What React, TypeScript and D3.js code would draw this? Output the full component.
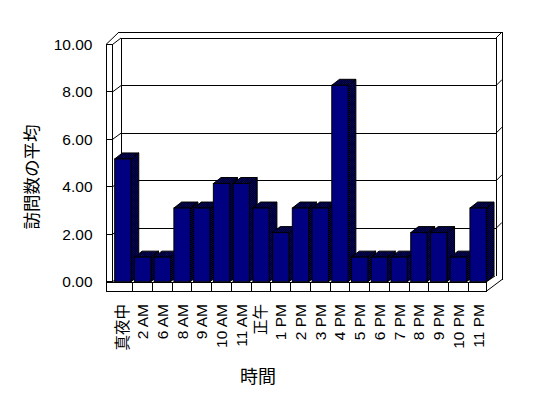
import React from "react";
import * as d3 from "d3";

const categories = ["真夜中", "2 AM", "6 AM", "8 AM", "9 AM", "10 AM", "11 AM", "正午", "1 PM", "2 PM", "3 PM", "4 PM", "5 PM", "6 PM", "7 PM", "8 PM", "9 PM", "10 PM", "11 PM"];
const visits = [5, 1, 1, 3, 3, 4, 4, 3, 2, 3, 3, 8, 1, 1, 1, 2, 2, 1, 3];
const yTicks = [0, 2, 4, 6, 8, 10];
const yTitle = "訪問数の平均";
const xTitle = "時間";

const W = 548;
const H = 398;
const FONT = "'Liberation Sans', Arial, 'Noto Sans CJK JP', sans-serif";
const CJK = "'Noto Sans CJK JP', sans-serif";

export default function App() {
  const x = d3.scaleBand<string>().domain(categories).range([113, 488]).paddingInner(0.17).paddingOuter(0.085);
  const barY = d3.scaleLinear().domain([0, 10]).range([281.7, 36.2]);
  const frontY = d3.scaleLinear().domain([0, 10]).range([281.7, 44.5]);
  const backY = d3.scaleLinear().domain([0, 10]).range([276, 38]);
  const bw = x.bandwidth();
  const step = x.step();
  const ddx = 7.7;
  const ddy = -6;
  const line = d3.line<[number, number]>();
  const stroke = "#000";

  const wallL0 = 106, wallL1 = 112.5, backL = 121, backR = 496, outerR = 502;
  const floorTop = 282, floorBot = 291.5, floorR = 486;

  return (
    <svg width={W} height={H} style={{ position: "absolute", left: 0, top: 0, background: "#fff" }}>
      <defs>
        <pattern id="dith" width="2" height="2" patternUnits="userSpaceOnUse">
          <rect width="2" height="2" fill="#000" />
          <rect x="0" y="0" width="1" height="1" fill="#000080" />
          <rect x="1" y="1" width="1" height="1" fill="#000080" />
        </pattern>
      </defs>
      <rect width={W} height={H} fill="#fff" />
      <g fill="none" stroke={stroke} strokeWidth={1} shapeRendering="crispEdges">
        {/* back wall */}
        <path d={line([[backL, backY(0)], [backL, backY(10)], [backR, backY(10)], [backR, backY(0)]]) || ""} />
        <path d={line([[119, 32], [outerR, 32], [outerR, 279.5]]) || ""} />
        <path d={line([[backR, backY(10)], [outerR, 32]]) || ""} shapeRendering="auto" />
        {/* grid lines */}
        {yTicks.filter((t) => t > 0 && t < 10).map((t) => (
          <g key={t}>
            <path d={line([[backL, backY(t)], [backR, backY(t)]]) || ""} />
            <path d={line([[backR, backY(t)], [outerR, backY(t) - 6]]) || ""} shapeRendering="auto" />
          </g>
        ))}
        {yTicks.filter((t) => t < 10).map((t) => (
          <g key={"f" + t}>
            <path d={line([[wallL0, frontY(t)], [wallL1, frontY(t)]]) || ""} />
            <path d={line([[wallL1, frontY(t)], [backL, backY(t)]]) || ""} shapeRendering="auto" />
          </g>
        ))}
        {/* left wall */}
        <path d={line([[wallL0, frontY(10)], [wallL0, floorBot]]) || ""} />
        <path d={line([[wallL1, frontY(10)], [wallL1, floorTop]]) || ""} />
        <path d={line([[wallL0, frontY(10)], [wallL1, frontY(10)]]) || ""} />
        <path d={line([[wallL0, frontY(10)], [119, 32]]) || ""} shapeRendering="auto" />
        <path d={line([[wallL1, frontY(10)], [backL, backY(10)]]) || ""} shapeRendering="auto" />
        {/* floor */}
        <path d={line([[wallL0, floorTop], [floorR, floorTop], [floorR, floorBot], [wallL0, floorBot]]) || ""} />
        <path d={line([[floorR, floorTop], [backR - 1, backY(0)]]) || ""} shapeRendering="auto" />
        <path d={line([[floorR, floorBot], [outerR, 279.5]]) || ""} shapeRendering="auto" />
        {categories.slice(0, -1).map((c) => {
          const xx = (x(c) as number) + bw + (step - bw) / 2;
          return <path key={"d" + c} d={line([[xx, floorTop], [xx, floorBot]]) || ""} />;
        })}
      </g>
      {/* bars */}
      <g>
        {categories.map((c, i) => {
          const x0 = x(c) as number;
          const x1 = x0 + bw;
          const yt = barY(visits[i]);
          const yb = barY(0);
          const side = [[x1, yt], [x1 + ddx, yt + ddy], [x1 + ddx, yb + ddy], [x1, yb]] as [number, number][];
          const top = [[x0, yt], [x1, yt], [x1 + ddx, yt + ddy], [x0 + ddx, yt + ddy]] as [number, number][];
          return (
            <g key={c} stroke="#000" strokeWidth={1}>
              <path d={(line(side) || "") + "Z"} fill="url(#dith)" />
              <path d={(line(top) || "") + "Z"} fill="url(#dith)" />
              <rect x={x0} y={yt} width={bw} height={yb - yt} fill="#000080" />
            </g>
          );
        })}
      </g>
      {/* y tick labels */}
      <g fontFamily={FONT} fontSize={15.5} fill="#000">
        {yTicks.map((t) => (
          <text key={t} x={92.5} y={frontY(t)} dy="0.35em" textAnchor="end">
            {d3.format(".2f")(t)}
          </text>
        ))}
      </g>
      {/* x tick labels */}
      <g fontFamily={FONT} fontSize={15.5} fill="#000">
        {categories.map((c) => {
          const cx = (x(c) as number) + bw / 2;
          return (
            <text key={c} transform={`translate(${cx},304) rotate(-90)`} dy="0.35em" textAnchor="end">
              {c}
            </text>
          );
        })}
      </g>
      <text transform="translate(32,177) rotate(-90)" textAnchor="middle" dy="0.35em" fontFamily={CJK} fontSize={17.5}>
        {yTitle}
      </text>
      <text x={258} y={377} textAnchor="middle" dy="0.35em" fontFamily={CJK} fontSize={18}>
        {xTitle}
      </text>
    </svg>
  );
}
